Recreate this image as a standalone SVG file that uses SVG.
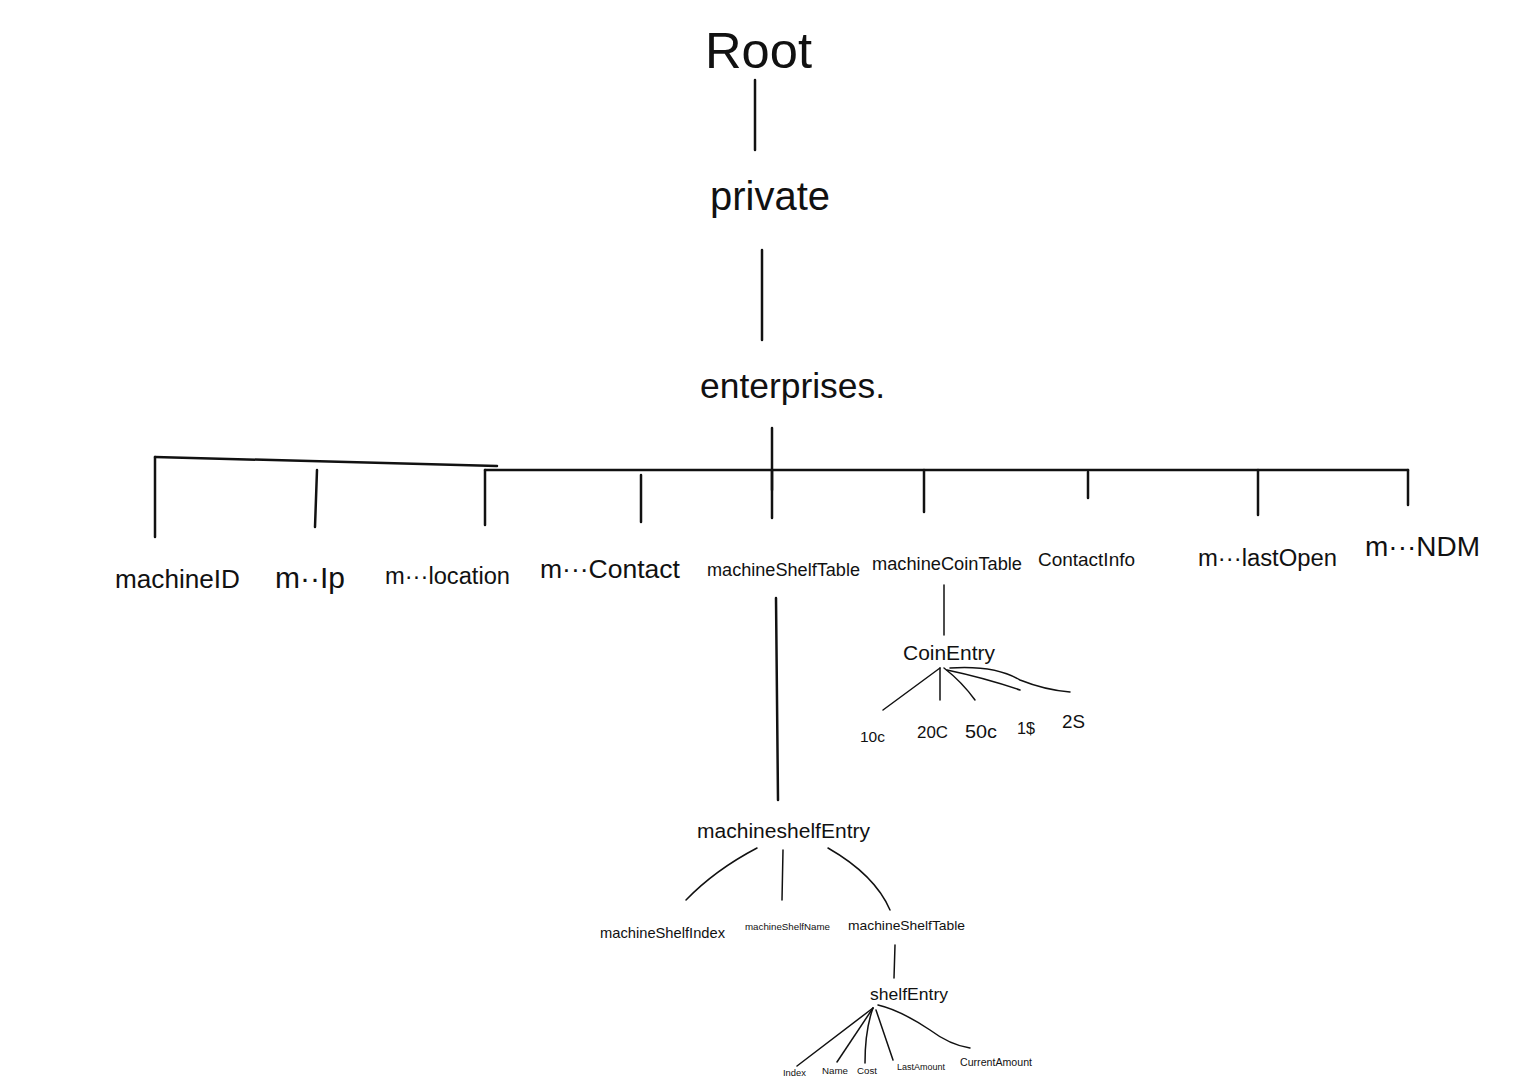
<svg xmlns="http://www.w3.org/2000/svg" width="1527" height="1080" viewBox="0 0 1527 1080">
<style>
text{font-family:"Liberation Sans","DejaVu Sans",sans-serif;fill:#111;text-anchor:start}
.l{stroke:#111;stroke-width:2.5;fill:none;stroke-linecap:round}
.t{stroke:#111;stroke-width:1.5;fill:none;stroke-linecap:round}
</style>
<rect width="1527" height="1080" fill="#fff"/>
<g id="connectors">
<path class="l" d="M755 80 L755 150"/>
<path class="l" d="M762 250 L762 340"/>
<path class="l" d="M772 428 L772 490"/>
<path class="l" d="M155 457 L497 466"/>
<path class="l" d="M485 470 L1408 470"/>
<path class="l" d="M155 457 L155 537"/>
<path class="l" d="M317 470 L315 527"/>
<path class="l" d="M485 470 L485 525"/>
<path class="l" d="M641 475 L641 522"/>
<path class="l" d="M772 470 L772 518"/>
<path class="l" d="M924 470 L924 512"/>
<path class="l" d="M1088 472 L1088 498"/>
<path class="l" d="M1258 470 L1258 515"/>
<path class="l" d="M1408 470 L1408 505"/>
<path class="l" d="M776 598 L778 800"/>
<path class="t" d="M944 585 L944 635"/>
<path class="t" d="M940 668 L883 710"/>
<path class="t" d="M940 668 L940 700"/>
<path class="t" d="M944 668 Q962 682 975 700"/>
<path class="t" d="M947 670 Q985 678 1020 690"/>
<path class="t" d="M950 668 Q995 665 1020 680 Q1045 690 1070 692"/>
<path class="t" d="M757 848 Q715 870 686 900"/>
<path class="t" d="M783 850 L782 900"/>
<path class="t" d="M828 848 Q875 875 890 910"/>
<path class="t" d="M895 945 L894 978"/>
<path class="t" d="M873 1008 L797 1066"/>
<path class="t" d="M873 1008 L837 1062"/>
<path class="t" d="M873 1008 Q865 1030 865 1063"/>
<path class="t" d="M876 1010 L893 1060"/>
<path class="t" d="M878 1005 Q900 1010 930 1030 Q950 1045 970 1048"/>
</g>
<g id="root"><text x="705" y="68" font-size="50" textLength="107" lengthAdjust="spacingAndGlyphs">Root</text></g>
<g id="private"><text x="710" y="210" font-size="40" textLength="120" lengthAdjust="spacingAndGlyphs">private</text></g>
<g id="enterprises"><text x="700" y="398" font-size="35" textLength="185" lengthAdjust="spacingAndGlyphs">enterprises.</text></g>
<g id="machineID"><text x="115" y="588" font-size="26" textLength="125" lengthAdjust="spacingAndGlyphs">machineID</text></g>
<g id="mIp"><text x="275" y="588" font-size="29" textLength="70" lengthAdjust="spacingAndGlyphs">m··Ip</text></g>
<g id="mLocation"><text x="385" y="584" font-size="23" textLength="125" lengthAdjust="spacingAndGlyphs">m···location</text></g>
<g id="mContact"><text x="540" y="578" font-size="26" textLength="140" lengthAdjust="spacingAndGlyphs">m···Contact</text></g>
<g id="machineShelfTable"><text x="707" y="576" font-size="17.5" textLength="153" lengthAdjust="spacingAndGlyphs">machineShelfTable</text></g>
<g id="machineCoinTable"><text x="872" y="570" font-size="17.5" textLength="150" lengthAdjust="spacingAndGlyphs">machineCoinTable</text></g>
<g id="ContactInfo"><text x="1038" y="566" font-size="18.5" textLength="97" lengthAdjust="spacingAndGlyphs">ContactInfo</text></g>
<g id="mLastOpen"><text x="1198" y="566" font-size="23" textLength="139" lengthAdjust="spacingAndGlyphs">m···lastOpen</text></g>
<g id="mNDM"><text x="1365" y="556" font-size="27" textLength="115" lengthAdjust="spacingAndGlyphs">m···NDM</text></g>
<g id="CoinEntry"><text x="903" y="660" font-size="20.5" textLength="92" lengthAdjust="spacingAndGlyphs">CoinEntry</text></g>
<g id="c10"><text x="860" y="742" font-size="15" textLength="25" lengthAdjust="spacingAndGlyphs">10c</text></g>
<g id="c20"><text x="917" y="738" font-size="16.5" textLength="31" lengthAdjust="spacingAndGlyphs">20C</text></g>
<g id="c50"><text x="965" y="738" font-size="19" textLength="32" lengthAdjust="spacingAndGlyphs">50c</text></g>
<g id="d1"><text x="1017" y="734" font-size="16" textLength="18" lengthAdjust="spacingAndGlyphs">1$</text></g>
<g id="d2"><text x="1062" y="728" font-size="18" textLength="23" lengthAdjust="spacingAndGlyphs">2S</text></g>
<g id="machineshelfEntry"><text x="697" y="838" font-size="20.5" textLength="173" lengthAdjust="spacingAndGlyphs">machineshelfEntry</text></g>
<g id="machineShelfIndex"><text x="600" y="938" font-size="14.5" textLength="125" lengthAdjust="spacingAndGlyphs">machineShelfIndex</text></g>
<g id="machineShelfName"><text x="745" y="930" font-size="9.8" textLength="85" lengthAdjust="spacingAndGlyphs">machineShelfName</text></g>
<g id="machineShelfTable2"><text x="848" y="930" font-size="13.6" textLength="117" lengthAdjust="spacingAndGlyphs">machineShelfTable</text></g>
<g id="shelfEntry"><text x="870" y="1000" font-size="17.3" textLength="78" lengthAdjust="spacingAndGlyphs">shelfEntry</text></g>
<g id="Index"><text x="783" y="1076" font-size="9.3" textLength="23" lengthAdjust="spacingAndGlyphs">Index</text></g>
<g id="Name"><text x="822" y="1074" font-size="9.6" textLength="26" lengthAdjust="spacingAndGlyphs">Name</text></g>
<g id="Cost"><text x="857" y="1074" font-size="9.6" textLength="20" lengthAdjust="spacingAndGlyphs">Cost</text></g>
<g id="LastAmount"><text x="897" y="1070" font-size="8.9" textLength="48" lengthAdjust="spacingAndGlyphs">LastAmount</text></g>
<g id="CurrentAmount"><text x="960" y="1066" font-size="10.5" textLength="72" lengthAdjust="spacingAndGlyphs">CurrentAmount</text></g>
</svg>
